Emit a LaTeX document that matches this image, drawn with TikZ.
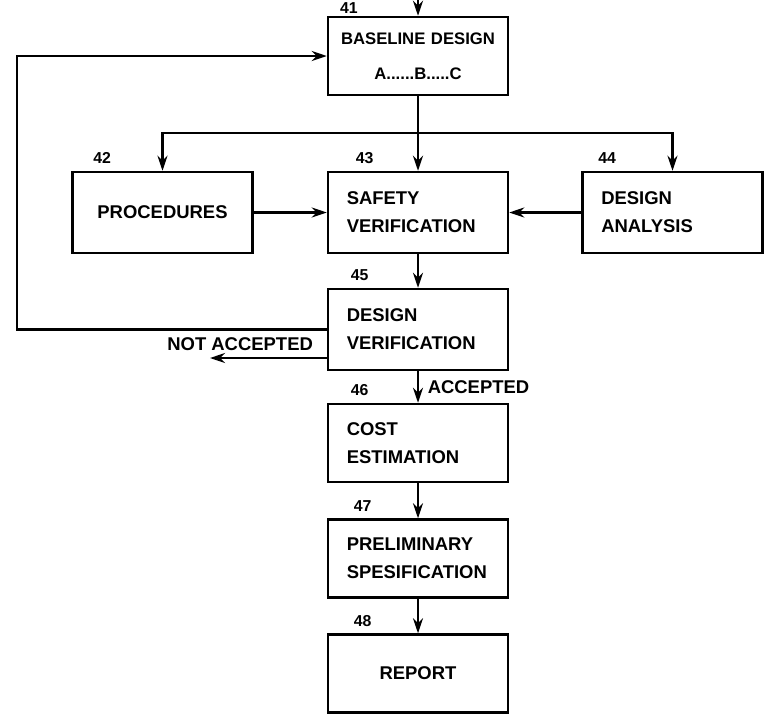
\documentclass[tikz,border=0pt]{standalone}
\usepackage{fontspec}
\setmainfont{Liberation Sans}
\usetikzlibrary{arrows.meta}

\begin{document}
\begin{tikzpicture}[
        box/.style={draw, line width=1.4pt, minimum width=3.6cm, minimum height=1.62cm,
            text width=2.85cm, inner xsep=0.375cm, align=left,
            font=\fontsize{10.5}{16}\selectfont\bfseries},
        num/.style={anchor=south west, inner sep=1pt, font=\fontsize{9}{10}\selectfont\bfseries},
        lbl/.style={inner sep=2pt, font=\fontsize{10.5}{12}\selectfont\bfseries},
        line/.style={line width=1.4pt},
        arr/.style={line width=1.4pt, -{Stealth[length=3mm, width=2mm]}}
    ]
    \useasboundingbox (0, 0) rectangle (15.56, -14.28);

    % boxes
    \node[box, align=center, minimum height=1.56cm, text width=3.3cm, inner xsep=0.15cm,
        font=\fontsize{9.5}{20}\selectfont\bfseries]
        (base) at (8.36, -1.12) {BASELINE DESIGN\\A......B.....C};
    \node[box, align=center] (proc) at (3.25, -4.25) {PROCEDURES};
    \node[box] (safe) at (8.36, -4.25) {SAFETY\\VERIFICATION};
    \node[box] (anal) at (13.45, -4.25) {DESIGN\\ANALYSIS};
    \node[box] (dver) at (8.36, -6.59) {DESIGN\\VERIFICATION};
    \node[box, minimum height=1.56cm] (cost) at (8.36, -8.86) {COST\\ESTIMATION};
    \node[box, minimum height=1.56cm] (prel) at (8.36, -11.17) {PRELIMINARY\\SPESIFICATION};
    \node[box, align=center, minimum height=1.56cm] (rep) at (8.36, -13.47) {REPORT};

    % numbers
    \node[num, inner sep=0.5pt] (n41) at ([xshift=0.24cm, yshift=0.02cm]base.north west) {41};
    \node[num] (n42) at ([xshift=0.4cm, yshift=0.1cm]proc.north west) {42};
    \node[num] (n43) at ([xshift=0.54cm, yshift=0.1cm]safe.north west) {43};
    \node[num] (n44) at ([xshift=0.3cm, yshift=0.1cm]anal.north west) {44};
    \node[num] (n45) at ([xshift=0.44cm, yshift=0.1cm]dver.north west) {45};
    \node[num] (n46) at ([xshift=0.44cm, yshift=0.1cm]cost.north west) {46};
    \node[num] (n47) at ([xshift=0.5cm, yshift=0.1cm]prel.north west) {47};
    \node[num] (n48) at ([xshift=0.5cm, yshift=0.1cm]rep.north west) {48};

    \coordinate (top) at (8.36, 0);
    \coordinate (split) at (8.36, -2.66);
    \coordinate (loop) at (0.34, -1.12);
    \coordinate (rej) at (4.2, -7.16);
    \coordinate (rejs) at (dver.west |- rej);

    % connectors
    \draw[arr] (top) -- (base);
    \draw[line] (base) -- (split);
    \draw[arr] (split) -- (safe);
    \draw[arr] (split) -| (proc);
    \draw[arr] (split) -| (anal);
    \draw[arr] (proc) -- (safe);
    \draw[arr] (anal) -- (safe);
    \draw[arr] (safe) -- (dver);
    \draw[arr] (dver.west) -| (loop) -- (base.west);
    \draw[arr] (rejs) -- (rej);
    \node[lbl, anchor=south east] (na) at ([xshift=-0.2cm, yshift=0.06cm]rejs) {NOT ACCEPTED};
    \draw[arr] (dver) -- (cost) node[lbl, midway, right, xshift=0.1cm] (acc) {ACCEPTED};
    \draw[arr] (cost) -- (prel);
    \draw[arr] (prel) -- (rep);
\end{tikzpicture}
\end{document}
